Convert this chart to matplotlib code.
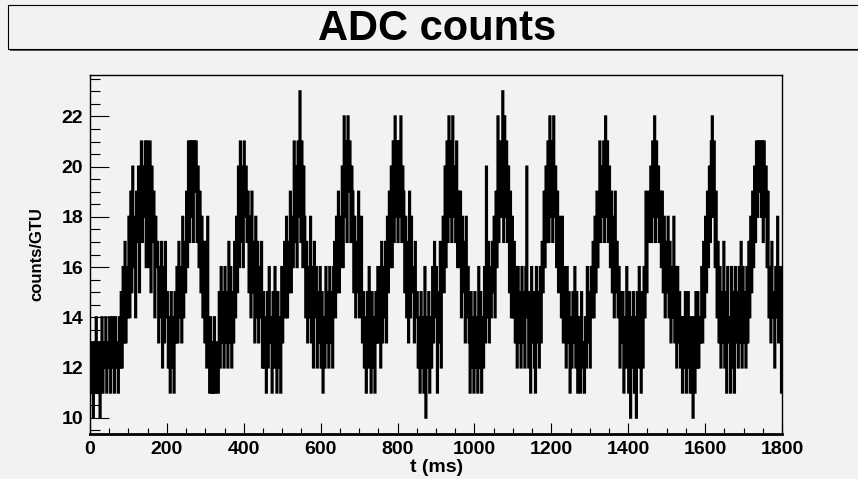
import numpy as np
import matplotlib.pyplot as plt
from matplotlib.patches import Rectangle
from matplotlib.ticker import MultipleLocator

plt.rcParams['font.family'] = ['Liberation Sans', 'DejaVu Sans']
plt.rcParams['font.weight'] = 'bold'

# ADC counts per GTU (2.5 ms bins) in 150 ms chunks
counts_0000 = [12, 11, 13, 10, 13, 11, 14, 12, 11, 13, 10, 13,
               14, 11, 13, 12, 14, 11, 13, 12, 14, 11, 13, 14, 12, 11, 14, 12, 13, 11, 14, 12,
               15, 12, 16, 13, 17, 13, 16, 14,
               18, 14, 19, 15, 20, 16, 18, 14, 19, 17, 20, 15, 19,
               21, 17, 20, 18, 21, 16, 21]
counts_0150 = [19, 16, 21, 15, 20, 17, 19, 14, 18, 16,
               17, 13, 16, 14, 17, 12, 16, 13, 17, 14,
               15, 12, 14, 11, 15, 12, 14, 11, 15, 13,
               16, 13, 17, 14, 16, 13, 18, 14, 17, 15, 19, 16,
               21, 17, 21, 18, 21, 17, 21, 19, 21, 17,
               20, 16, 19, 15, 18, 14, 17, 13]
counts_0300 = [17, 12, 18, 13,
               11, 14, 11, 13, 11, 14, 11, 13, 12, 11,
               15, 12, 16, 13, 15, 12, 16, 13, 15, 12, 17, 13, 16, 12, 15, 13, 17, 14,
               18, 15, 20, 16, 21, 17, 20, 16, 21, 18, 20, 17,
               19, 15, 18, 14, 19, 15, 17, 13, 18, 14, 17, 13, 16, 14, 17, 12]
counts_0450 = [15, 12, 14, 11, 15, 12, 16, 13, 14, 11, 15, 12, 16, 13, 11, 15, 12, 14, 11, 16, 13, 15,
               17, 14, 18, 14, 17, 15, 19, 15, 18, 16,
               21, 17, 20, 16, 21, 18, 23, 17, 21, 16, 20,
               18, 14, 17, 13, 16, 14, 18, 13, 16, 12, 17, 14, 16, 12, 15, 13, 16]
counts_0600 = [12, 15, 11, 14, 12, 16, 13, 15, 12, 16, 13, 15, 12, 16,
               17, 14, 18, 15, 19, 15, 18, 16, 20, 16,
               22, 18, 21, 17, 22, 19, 21, 17, 20,
               19, 15, 18, 14, 17, 15, 19, 14, 16, 18, 13,
               15, 12, 14, 11, 15, 12, 16, 13, 11, 15, 12, 14, 11, 15, 13, 16]
counts_0750 = [13, 16, 12, 17, 13, 16, 14, 17, 13,
               18, 15, 19, 16, 20, 16, 21, 17, 22, 18, 21, 17, 21, 18, 22, 17, 20,
               19, 15, 18, 14, 17, 13, 19, 14, 18, 15, 16, 13, 17, 14,
               15, 12, 14, 11, 15, 12, 14, 11, 16, 10, 14, 12, 15, 11, 14, 12, 16, 13, 17, 14]
counts_0900 = [16, 11, 15, 13, 17, 12, 16,
               18, 15, 20, 16, 21, 17, 22, 18, 21, 17, 22, 18, 20, 17, 21, 16, 19,
               16, 19, 14, 18, 15, 17, 13, 18, 14, 16,
               13, 11, 15, 12, 14, 11, 15, 12, 14, 11, 16, 12, 15, 11, 14, 12, 16, 13,
               20, 14, 17, 13, 16, 14, 17, 15]
counts_1050 = [18, 14, 19,
               16, 22, 17, 21, 18, 20, 23, 17, 22, 18, 21, 17, 20, 15, 19, 14, 18,
               14, 17, 13, 16, 12, 16, 13, 15, 12, 16, 13, 15, 12, 16, 20, 14, 12, 15, 11, 16,
               13, 15, 12, 11, 16, 13, 15, 12, 16, 13, 17,
               15, 19, 16, 20, 17, 21, 17, 22, 18]
counts_1200 = [21, 17, 22, 18, 20, 16, 19, 15, 18,
               17, 14, 18, 13, 16, 14, 12, 16, 13, 15, 11, 14, 12, 15, 13, 16,
               12, 15, 11, 14, 12, 11, 15, 13, 12, 11, 14, 12, 16, 13, 15, 12, 16, 14,
               17, 14, 18, 15, 19, 16, 18,
               21, 17, 20, 18, 21, 17, 22, 18, 21, 17]
counts_1350 = [20, 16, 19, 15, 18, 14, 19, 15, 17, 14,
               16, 12, 15, 13, 15, 11, 14, 12, 16, 13, 11, 15, 10, 14, 12, 15, 11, 14, 10, 15,
               12, 16, 13, 11, 15, 12, 16,
               14, 19, 15, 18, 19,
               17, 20, 17, 21, 18, 22, 17, 21, 18, 20, 17, 19, 16, 19, 15, 18, 14, 17]
counts_1500 = [15, 18, 14, 17, 13, 16, 14, 18, 13, 16, 12, 16, 13, 15, 12,
               14, 11, 14, 12, 15, 11, 13, 15, 12, 11, 14, 12, 10, 14, 11, 15, 12, 15, 12, 14, 13,
               16, 13, 17, 14, 18, 15, 19, 16, 20, 17, 21, 22, 18, 21, 16,
               19, 14, 17, 13, 16, 12, 15, 13, 17]
counts_1650 = [12, 15, 11, 16, 13, 14, 11, 16, 12, 15, 11, 16, 13, 15, 12, 16, 13, 17, 12, 16,
               13, 15, 12, 16, 13, 17, 14, 18,
               15, 19, 16, 20, 17, 21, 18, 21, 19, 21, 18, 21, 17, 21, 18, 20, 16, 19,
               14, 16, 13, 17, 14, 15, 12, 16, 14, 18, 13, 15, 16, 11]

counts = np.concatenate([counts_0000, counts_0150, counts_0300, counts_0450,
                         counts_0600, counts_0750, counts_0900, counts_1050,
                         counts_1200, counts_1350, counts_1500, counts_1650])
edges = np.linspace(0, 1800, len(counts) + 1)

bg = '#f2f2f2'
W, H = 858, 479
fig = plt.figure(figsize=(W / 100, H / 100), dpi=100, facecolor=bg)

# title pad with shadow, ROOT style
fig.patches.append(Rectangle((10 / W, 1 - 51 / H), 1.0, 44 / H, transform=fig.transFigure,
                             facecolor='#555555', edgecolor='none'))
fig.patches.append(Rectangle((8 / W, 1 - 49 / H), 1.0, 44 / H, transform=fig.transFigure,
                             facecolor=bg, edgecolor='black', lw=0.8))
fig.text(437 / W, 1 - 29 / H, 'ADC counts', ha='center', va='center', fontsize=30, weight='bold')

ax = fig.add_axes([90 / W, 1 - 434 / H, 692 / W, 359 / H], facecolor=bg)
ax.stairs(counts, edges, color='black', lw=1.6, baseline=None)
ax.set_xlim(0, 1800)
ax.set_ylim(9.35, 23.65)

ax.xaxis.set_major_locator(MultipleLocator(200))
ax.xaxis.set_minor_locator(MultipleLocator(50))
ax.yaxis.set_major_locator(MultipleLocator(2))
ax.yaxis.set_minor_locator(MultipleLocator(0.5))
ax.tick_params(which='both', direction='in', labelsize=14, width=0.8, pad=5)
ax.tick_params(axis='x', which='major', length=8)
ax.tick_params(axis='x', which='minor', length=4.3)
ax.tick_params(axis='y', which='major', length=13.7)
ax.tick_params(axis='y', which='minor', length=7.2)
for side in ax.spines.values():
    side.set_linewidth(1)
ax.spines['bottom'].set_linewidth(2)

fig.text(37 / W, 1 - 254 / H, 'counts/GTU', rotation=90, ha='center', va='center', fontsize=12)
fig.text(437 / W, 1 - 467 / H, 't (ms)', ha='center', va='center', fontsize=14)

fig.savefig('out.png', dpi=100, facecolor=bg)
